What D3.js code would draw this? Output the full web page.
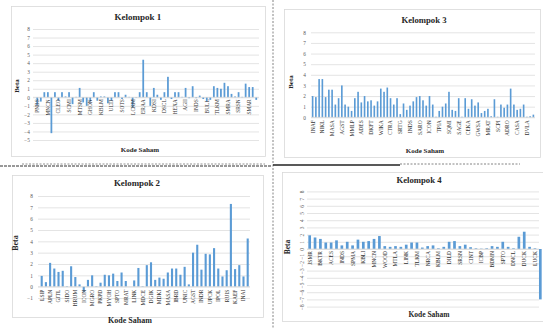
<!DOCTYPE html>
<html><head><meta charset="utf-8">
<script src="https://cdn.jsdelivr.net/npm/d3@7"></script>
<style>body{margin:0;background:#fff}svg{display:block}</style>
</head><body><svg id="c" width="543" height="329"></svg>
<script>
// ---------- DATA ----------
const titles = ["Kelompok 1", "Kelompok 2", "Kelompok 3", "Kelompok 4"];
const yAxisTitle = "Beta";
const xAxisTitle = "Kode Saham";

const labels1 = ["PNBS","MNCN","CLEO","SCMI","MTSM","GHON","KBLM","ULTJ","SOTS","LCKM","ERAA","KDSI","DSCL","HEXA","AGII","INDS","BULL","TLKM","SMRA","SRSN","SMAR"];
const values1 = [-0.9,-0.5,0.6,0.6,-4.2,0.6,-0.4,0.6,0.1,0.6,-0.8,0.05,1.1,-0.6,-1.0,-0.5,0.6,-0.4,0.1,0.1,-0.7,-0.4,0.6,0.6,-0.2,0.3,0.05,-1.2,-0.05,0.6,4.4,0.6,-1.0,1.1,0.3,-0.3,0.6,2.4,-0.2,0.6,0.6,0.05,1.1,-0.1,1.3,-0.1,0.2,-0.2,-0.5,-0.3,1.3,1.1,1.0,1.7,1.3,0.4,0.1,0.6,0.05,1.6,1.2,1.2,-0.3];
const ticks1 = [-5,-4,-3,-2,-1,0,1,2,3,4,5,6,7,8];

const labels2 = ["LSIP","APLN","GJTL","SIDO","HRUM","ICON","MGRO","PKPD","MYOH","SPTO","MRAT","LINK","MDCE","DGIK","MDKI","MASA","IBRD","UNIC","AGST","INDR","UPCK","IPOL","RUIS","KAEF","INAI"];
const values2 = [0.95,0.4,2.1,1.6,1.3,1.4,0.05,1.8,0.85,0.2,-0.45,0.6,1.0,0.05,0.35,1.05,1.0,1.15,0.5,1.25,0.5,0.0,0.55,1.65,0.05,1.9,2.15,0.6,0.8,0.7,1.25,1.6,1.6,1.05,1.75,0.2,3.0,3.7,1.5,2.9,2.85,3.4,1.6,0.9,1.45,7.3,1.55,1.9,0.9,4.25];
const ticks2 = [-1,0,1,2,3,4,5,6,7,8];

const labels3 = ["INAF","NIKL","MASA","AGST","MMLP","ADES","DKFT","WIKA","CTRA","SRTG","INDS","SARO","ICON","TPIA","SQMI","SAGE","CEKA","GWSA","MRAT","SCPI","ADRO","CASA","DVLA"];
const values3 = [2.0,1.9,3.6,3.6,1.9,2.6,2.6,1.2,1.8,3.0,1.2,1.0,0.6,1.8,2.4,1.4,2.0,1.5,1.6,1.1,1.5,2.7,2.4,2.8,1.8,1.2,1.8,0.3,1.3,0.7,1.1,1.5,1.9,2.0,1.6,1.1,2.0,1.2,0.05,0.6,1.0,1.3,2.4,0.7,0.6,1.8,0.05,1.8,0.8,1.7,1.1,1.4,0.4,0.6,0.8,0.1,1.7,0.05,1.2,0.9,1.2,2.7,1.2,0.7,0.8,1.2,0.05,0.1,0.25];
const ticks3 = [0,1,2,3,4,5,6,7,8];

const labels4 = ["JSMR","BKTR","ACES","INDS","SPMA","KBLI","MNCN","WOOD","MTLA","LINK","TLKM","NRCA","KBLM","DILD","SRSN","CINT","ICBP","BDMN","SPTO","DNCL","DUCK","LUCK"];
const values4 = [1.9,1.6,1.4,0.9,0.9,1.2,0.5,1.0,0.5,1.3,1.0,1.1,1.4,1.8,0.4,0.3,0.4,0.3,0.6,0.9,0.9,0.2,0.4,0.5,0.1,0.3,1.0,1.1,0.4,0.6,0.25,0.1,0.05,0.1,0.4,0.3,1.0,0.3,0.1,1.7,2.4,0.3,0.1,-7.0];
const ticks4 = [-8,-7,-6,-5,-4,-3,-2,-1,0,1,2,3,4,5,6,7,8];

// ---------- LAYOUT ----------
const svg = d3.select("#c");
const FONT = "'Liberation Serif','Times New Roman',serif";
const BAR = "#5b9bd5";

// document decoration lines
svg.append("line").attr("x1",273).attr("x2",273).attr("y1",0).attr("y2",329)
  .attr("stroke","#666").attr("stroke-width",0.8).attr("stroke-dasharray","2,1.5");
svg.append("line").attr("x1",22).attr("x2",265).attr("y1",164).attr("y2",164)
  .attr("stroke","#777").attr("stroke-width",0.8).attr("stroke-dasharray","2,1.5");
svg.append("line").attr("x1",0).attr("x2",272).attr("y1",166).attr("y2",166)
  .attr("stroke","#333").attr("stroke-width",1).attr("stroke-dasharray","3,1");
svg.append("line").attr("x1",273).attr("x2",400).attr("y1",165).attr("y2",165)
  .attr("stroke","#222").attr("stroke-width",1.6);
svg.append("line").attr("x1",400).attr("x2",520).attr("y1",164).attr("y2",164)
  .attr("stroke","#666").attr("stroke-width",0.8).attr("stroke-dasharray","2,1.5");

function panel(o) {
  const g = svg.append("g");
  g.append("rect").attr("x",o.box[0]+0.5).attr("y",o.box[1]+0.5)
    .attr("width",o.box[2]-o.box[0]).attr("height",o.box[3]-o.box[1])
    .attr("fill","#fff").attr("stroke","#d9d9d9").attr("stroke-width",0.8);

  const y = d3.scaleLinear().domain(o.ydom).range(o.yrange);
  const x = d3.scaleBand().domain(d3.range(o.values.length)).range(o.band)
    .paddingInner(0.5).paddingOuter(0.25);

  // y axis with gridlines
  const ya = g.append("g").attr("transform",`translate(${o.grid[0]},0)`)
    .call(d3.axisLeft(y).tickValues(o.ticks).tickFormat(d3.format("d"))
      .tickSize(-(o.grid[1]-o.grid[0])).tickPadding(o.ypad));
  ya.select(".domain").remove();
  ya.selectAll("line").attr("stroke","#d9d9d9").attr("stroke-width",0.7);
  ya.selectAll("text").attr("font-family",FONT).attr("font-size",o.yfs).attr("fill","#595959");
  if (o.rotY) {
    ya.selectAll("text").attr("x",null).attr("dy","0.35em").attr("text-anchor","middle")
      .attr("transform",`translate(${-o.ypad},0) rotate(-90)`);
  }

  // bars
  g.append("g").selectAll("rect").data(o.values).join("rect")
    .attr("x",(d,i)=>x(i)).attr("width",x.bandwidth())
    .attr("y",d=>y(Math.max(0,d))).attr("height",d=>Math.abs(y(d)-y(0)))
    .attr("fill",BAR);

  // category axis at zero
  const idx = d3.range(0,o.values.length,o.every);
  const xa = g.append("g").attr("transform",`translate(0,${y(0)})`)
    .call(d3.axisBottom(x).tickValues(idx).tickFormat(i=>o.labels[i/o.every]).tickSize(0));
  xa.select(".domain").attr("stroke","#d9d9d9").attr("stroke-width",0.7)
    .attr("d",`M${o.grid[0]},0H${o.grid[1]}`);
  xa.selectAll("text").attr("font-family",FONT).attr("font-size",o.xfs).attr("fill","#333")
    .attr("y",0).attr("x",-o.xoff).attr("dy","0.35em").attr("text-anchor","end")
    .attr("transform","rotate(-90)");

  // titles
  g.append("text").attr("x",o.title[0]).attr("y",o.title[1]).attr("text-anchor","middle")
    .attr("font-family",FONT).attr("font-size",o.tfs).attr("font-weight","bold").attr("fill","#262626")
    .text(o.titleText);
  g.append("text").attr("transform",`translate(${o.beta[0]},${o.beta[1]}) rotate(-90)`)
    .attr("text-anchor","middle").attr("font-family",FONT).attr("font-size",o.afs)
    .attr("font-weight","bold").attr("fill","#262626").text(yAxisTitle);
  g.append("text").attr("x",o.kode[0]).attr("y",o.kode[1]).attr("text-anchor","middle")
    .attr("font-family",FONT).attr("font-size",o.afs).attr("font-weight","bold").attr("fill","#262626")
    .text(xAxisTitle);
}

panel({titleText:titles[0], labels:labels1, values:values1, ticks:ticks1, every:3,
  box:[11,6,265,156], grid:[33,259], band:[35.5,258], ydom:[-5,8], yrange:[140,29],
  ypad:3, yfs:5.3, xfs:5.4, xoff:2, tfs:9, afs:7,
  title:[138,20], beta:[19,86], kode:[140,152]});

panel({titleText:titles[2], labels:labels3, values:values3, ticks:ticks3, every:3,
  box:[284,9,540,157], grid:[311,535], band:[311,535], ydom:[0,8], yrange:[117.3,32.3],
  ypad:5, yfs:5.3, xfs:5.5, xoff:3, tfs:8.7, afs:7,
  title:[424,23], beta:[293,82], kode:[425,153]});

panel({titleText:titles[1], labels:labels2, values:values2, ticks:ticks2, every:2,
  box:[12,175,263,317], grid:[38,250], band:[39.6,249.8], ydom:[-1,8], yrange:[298,196],
  ypad:5, yfs:5.3, xfs:5.5, xoff:3, tfs:8.9, afs:8,
  title:[137,186], beta:[18,243], kode:[130,323]});

panel({titleText:titles[3], labels:labels4, values:values4, ticks:ticks4, every:2,
  box:[282,172,560,321], grid:[307,539], band:[307,543], ydom:[-8,8], yrange:[306.6,191.4],
  ypad:5, yfs:5.3, xfs:5.5, xoff:2, tfs:8.7, afs:7.5, rotY:true,
  title:[419,183], beta:[290,247], kode:[429,317]});
</script>
</body></html>
